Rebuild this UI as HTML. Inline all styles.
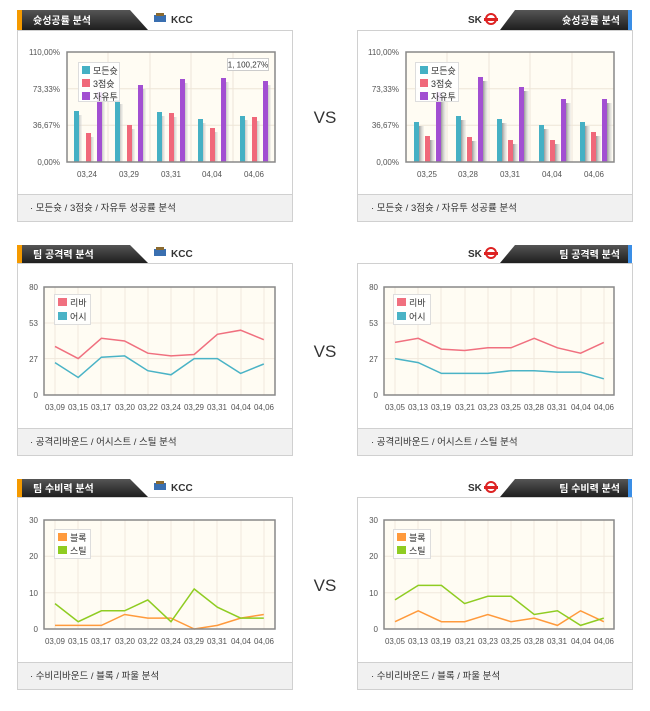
<!DOCTYPE html>
<html><head><meta charset="utf-8"><style>
html,body{margin:0;padding:0;background:#fff;}
svg text{font-family:"Liberation Sans","Noto Sans CJK KR",sans-serif;}
</style></head><body>
<svg width="650" height="706" viewBox="0 0 650 706" xmlns="http://www.w3.org/2000/svg">
<defs>
<linearGradient id="hd" x1="0" y1="0" x2="0" y2="1"><stop offset="0" stop-color="#555"/><stop offset="1" stop-color="#1e1e1e"/></linearGradient>
<linearGradient id="sh" x1="0" y1="0" x2="1" y2="0"><stop offset="0" stop-color="#999"/><stop offset="1" stop-color="#ddd" stop-opacity="0.3"/></linearGradient>
</defs>

<!-- ===== Panel boxes ===== -->
<g fill="#fff" stroke="#d0d0d0">
<rect x="17.5" y="30.5" width="275" height="191"/>
<rect x="357.5" y="30.5" width="275" height="191"/>
<rect x="17.5" y="263.5" width="275" height="192"/>
<rect x="357.5" y="263.5" width="275" height="192"/>
<rect x="17.5" y="497.5" width="275" height="192"/>
<rect x="357.5" y="497.5" width="275" height="192"/>
</g>
<g fill="#f1f1f1" stroke="#d0d0d0">
<rect x="17.5" y="194.5" width="275" height="27"/>
<rect x="357.5" y="194.5" width="275" height="27"/>
<rect x="17.5" y="428.5" width="275" height="27"/>
<rect x="357.5" y="428.5" width="275" height="27"/>
<rect x="17.5" y="662.5" width="275" height="27"/>
<rect x="357.5" y="662.5" width="275" height="27"/>
</g>
<g font-size="9.5" fill="#333">
<text x="30" y="211">·  모든슛 / 3점슛 / 자유투 성공률 분석</text>
<text x="371" y="211">·  모든슛 / 3점슛 / 자유투 성공률 분석</text>
<text x="30" y="445">· 공격리바운드 / 어시스트 / 스틸 분석</text>
<text x="371" y="445">·  공격리바운드 / 어시스트 / 스틸 분석</text>
<text x="30" y="679">·  수비리바운드 / 블록 / 파울 분석</text>
<text x="371" y="679">·  수비리바운드 / 블록 / 파울 분석</text>
</g>

<!-- ===== Headers ===== -->
<g>
<polygon points="17,10 130,10 148,30 17,30" fill="url(#hd)"/><rect x="17" y="10" width="5" height="20" fill="#f59a00"/>
<polygon points="515,10 632,10 632,30 500,30" fill="url(#hd)"/><rect x="628" y="10" width="4" height="20" fill="#3a8ee6"/>
<polygon points="17,245 130,245 148,263 17,263" fill="url(#hd)"/><rect x="17" y="245" width="5" height="18" fill="#f59a00"/>
<polygon points="515,245 632,245 632,263 500,263" fill="url(#hd)"/><rect x="628" y="245" width="4" height="18" fill="#3a8ee6"/>
<polygon points="17,479 130,479 148,497 17,497" fill="url(#hd)"/><rect x="17" y="479" width="5" height="18" fill="#f59a00"/>
<polygon points="515,479 632,479 632,497 500,497" fill="url(#hd)"/><rect x="628" y="479" width="4" height="18" fill="#3a8ee6"/>
</g>
<g font-size="10" font-weight="bold" fill="#fff">
<text x="33" y="24">슛성공률 분석</text>
<text x="620" y="24" text-anchor="end">슛성공률 분석</text>
<text x="33" y="258">팀 공격력 분석</text>
<text x="620" y="258" text-anchor="end">팀 공격력 분석</text>
<text x="33" y="492">팀 수비력 분석</text>
<text x="620" y="492" text-anchor="end">팀 수비력 분석</text>
</g>
<!-- team logos -->
<g font-size="10" font-weight="bold" fill="#333">
<rect x="154" y="15" width="12" height="7" fill="#3a6fb0"/><rect x="156" y="13" width="8" height="3" fill="#8a6a30"/>
<text x="171" y="23">KCC</text>
<rect x="154" y="249" width="12" height="7" fill="#3a6fb0"/><rect x="156" y="247" width="8" height="3" fill="#8a6a30"/>
<text x="171" y="257">KCC</text>
<rect x="154" y="483" width="12" height="7" fill="#3a6fb0"/><rect x="156" y="481" width="8" height="3" fill="#8a6a30"/>
<text x="171" y="491">KCC</text>
<text x="468" y="23">SK</text><circle cx="491" cy="19" r="5" fill="none" stroke="#d22" stroke-width="2"/><rect x="484" y="18" width="14" height="3" fill="#d22"/>
<text x="468" y="257">SK</text><circle cx="491" cy="253" r="5" fill="none" stroke="#d22" stroke-width="2"/><rect x="484" y="252" width="14" height="3" fill="#d22"/>
<text x="468" y="491">SK</text><circle cx="491" cy="487" r="5" fill="none" stroke="#d22" stroke-width="2"/><rect x="484" y="486" width="14" height="3" fill="#d22"/>
</g>

<!-- VS -->
<g font-size="17" fill="#333">
<text x="325" y="123" text-anchor="middle">VS</text>
<text x="325" y="357" text-anchor="middle">VS</text>
<text x="325" y="591" text-anchor="middle">VS</text>
</g>

<!-- ===== Panel 1 left: bars ===== -->
<rect x="67" y="52" width="208" height="110" fill="#fffcf3"/>
<g stroke="#eee5d8" stroke-width="1">
<line x1="67" y1="88.7" x2="275" y2="88.7"/><line x1="67" y1="125.3" x2="275" y2="125.3"/>
<line x1="108" y1="52" x2="108" y2="162"/><line x1="150" y1="52" x2="150" y2="162"/><line x1="191" y1="52" x2="191" y2="162"/><line x1="233" y1="52" x2="233" y2="162"/>
</g>
<g fill="url(#sh)">
<rect x="77" y="115" width="5" height="47"/><rect x="89" y="137" width="5" height="25"/><rect x="100" y="96" width="5" height="66"/>
<rect x="118" y="104" width="5" height="58"/><rect x="130" y="129" width="5" height="33"/><rect x="141" y="89" width="5" height="73"/>
<rect x="160" y="116" width="5" height="46"/><rect x="172" y="117" width="5" height="45"/><rect x="183" y="83" width="5" height="79"/>
<rect x="201" y="123" width="5" height="39"/><rect x="213" y="132" width="5" height="30"/><rect x="224" y="82" width="5" height="80"/>
<rect x="243" y="120" width="5" height="42"/><rect x="255" y="121" width="5" height="41"/><rect x="266" y="85" width="5" height="77"/>
</g>
<g>
<rect x="74" y="111" width="5" height="51" fill="#45b0c4"/><rect x="86" y="133" width="5" height="29" fill="#f0687a"/><rect x="97" y="92" width="5" height="70" fill="#a24fd2"/>
<rect x="115" y="100" width="5" height="62" fill="#45b0c4"/><rect x="127" y="125" width="5" height="37" fill="#f0687a"/><rect x="138" y="85" width="5" height="77" fill="#a24fd2"/>
<rect x="157" y="112" width="5" height="50" fill="#45b0c4"/><rect x="169" y="113" width="5" height="49" fill="#f0687a"/><rect x="180" y="79" width="5" height="83" fill="#a24fd2"/>
<rect x="198" y="119" width="5" height="43" fill="#45b0c4"/><rect x="210" y="128" width="5" height="34" fill="#f0687a"/><rect x="221" y="78" width="5" height="84" fill="#a24fd2"/>
<rect x="240" y="116" width="5" height="46" fill="#45b0c4"/><rect x="252" y="117" width="5" height="45" fill="#f0687a"/><rect x="263" y="81" width="5" height="81" fill="#a24fd2"/>
</g>
<rect x="67" y="52" width="208" height="110" fill="none" stroke="#888" stroke-width="1.5"/>
<rect x="78.5" y="62.5" width="41" height="39" fill="#fff" fill-opacity="0.85" stroke="#ddd"/>
<rect x="82" y="66" width="8" height="8" fill="#45b0c4"/><rect x="82" y="79" width="8" height="8" fill="#f0687a"/><rect x="82" y="92" width="8" height="8" fill="#a24fd2"/>
<g font-size="9" fill="#333"><text x="93" y="74">모든슛</text><text x="93" y="87">3점슛</text><text x="93" y="100">자유투</text></g>
<rect x="227.5" y="58.5" width="41" height="12" fill="#fff" stroke="#ccc"/>
<text x="248" y="67.5" font-size="8" fill="#333" text-anchor="middle">1, 100,27%</text>
<g font-size="8" fill="#555" text-anchor="end">
<text x="60" y="55">110,00%</text><text x="60" y="92">73,33%</text><text x="60" y="128">36,67%</text><text x="60" y="165">0,00%</text>
</g>
<g font-size="8" fill="#555" text-anchor="middle">
<text x="87" y="177">03,24</text><text x="129" y="177">03,29</text><text x="171" y="177">03,31</text><text x="212" y="177">04,04</text><text x="254" y="177">04,06</text>
</g>

<!-- ===== Panel 1 right: bars ===== -->
<rect x="406" y="52" width="208" height="110" fill="#fffcf3"/>
<g stroke="#eee5d8" stroke-width="1">
<line x1="406" y1="88.7" x2="614" y2="88.7"/><line x1="406" y1="125.3" x2="614" y2="125.3"/>
<line x1="447" y1="52" x2="447" y2="162"/><line x1="489" y1="52" x2="489" y2="162"/><line x1="530" y1="52" x2="530" y2="162"/><line x1="572" y1="52" x2="572" y2="162"/>
</g>
<g fill="url(#sh)">
<rect x="419" y="126" width="5" height="36"/><rect x="430" y="140" width="5" height="22"/><rect x="441" y="96" width="5" height="66"/>
<rect x="461" y="120" width="5" height="42"/><rect x="472" y="141" width="5" height="21"/><rect x="483" y="81" width="5" height="81"/>
<rect x="502" y="123" width="5" height="39"/><rect x="513" y="144" width="5" height="18"/><rect x="524" y="91" width="5" height="71"/>
<rect x="544" y="129" width="5" height="33"/><rect x="555" y="144" width="5" height="18"/><rect x="566" y="103" width="5" height="59"/>
<rect x="585" y="126" width="5" height="36"/><rect x="596" y="136" width="5" height="26"/><rect x="607" y="103" width="5" height="59"/>
</g>
<g>
<rect x="414" y="122" width="5" height="40" fill="#45b0c4"/><rect x="425" y="136" width="5" height="26" fill="#f0687a"/><rect x="436" y="92" width="5" height="70" fill="#a24fd2"/>
<rect x="456" y="116" width="5" height="46" fill="#45b0c4"/><rect x="467" y="137" width="5" height="25" fill="#f0687a"/><rect x="478" y="77" width="5" height="85" fill="#a24fd2"/>
<rect x="497" y="119" width="5" height="43" fill="#45b0c4"/><rect x="508" y="140" width="5" height="22" fill="#f0687a"/><rect x="519" y="87" width="5" height="75" fill="#a24fd2"/>
<rect x="539" y="125" width="5" height="37" fill="#45b0c4"/><rect x="550" y="140" width="5" height="22" fill="#f0687a"/><rect x="561" y="99" width="5" height="63" fill="#a24fd2"/>
<rect x="580" y="122" width="5" height="40" fill="#45b0c4"/><rect x="591" y="132" width="5" height="30" fill="#f0687a"/><rect x="602" y="99" width="5" height="63" fill="#a24fd2"/>
</g>
<rect x="406" y="52" width="208" height="110" fill="none" stroke="#888" stroke-width="1.5"/>
<rect x="415.5" y="62.5" width="43" height="39" fill="#fff" fill-opacity="0.85" stroke="#ddd"/>
<rect x="420" y="66" width="8" height="8" fill="#45b0c4"/><rect x="420" y="79" width="8" height="8" fill="#f0687a"/><rect x="420" y="92" width="8" height="8" fill="#a24fd2"/>
<g font-size="9" fill="#333"><text x="431" y="74">모든슛</text><text x="431" y="87">3점슛</text><text x="431" y="100">자유투</text></g>
<g font-size="8" fill="#555" text-anchor="end">
<text x="399" y="55">110,00%</text><text x="399" y="92">73,33%</text><text x="399" y="128">36,67%</text><text x="399" y="165">0,00%</text>
</g>
<g font-size="8" fill="#555" text-anchor="middle">
<text x="427" y="177">03,25</text><text x="468" y="177">03,28</text><text x="510" y="177">03,31</text><text x="552" y="177">04,04</text><text x="594" y="177">04,06</text>
</g>

<!-- ===== Panel 2 left ===== -->
<rect x="44" y="287" width="231" height="108" fill="#fffcf3"/>
<g stroke="#f0e8dc">
<line x1="44" y1="323" x2="275" y2="323"/><line x1="44" y1="358.6" x2="275" y2="358.6"/>
<line x1="55" y1="287" x2="55" y2="395"/><line x1="78" y1="287" x2="78" y2="395"/><line x1="101" y1="287" x2="101" y2="395"/><line x1="125" y1="287" x2="125" y2="395"/><line x1="148" y1="287" x2="148" y2="395"/><line x1="171" y1="287" x2="171" y2="395"/><line x1="194" y1="287" x2="194" y2="395"/><line x1="217" y1="287" x2="217" y2="395"/><line x1="241" y1="287" x2="241" y2="395"/><line x1="264" y1="287" x2="264" y2="395"/>
</g>
<polyline fill="none" stroke="#f0707f" stroke-width="1.5" points="55,346.4 78.2,358.6 101.4,338.3 124.6,341 147.8,353.2 171,355.9 194.2,354.5 217.4,334.3 240.6,330.2 263.8,339.7"/>
<polyline fill="none" stroke="#4ab3c6" stroke-width="1.5" points="55,362.6 78.2,377.5 101.4,357.2 124.6,355.9 147.8,370.7 171,374.8 194.2,358.6 217.4,358.6 240.6,373.4 263.8,364"/>
<rect x="44" y="287" width="231" height="108" fill="none" stroke="#888" stroke-width="1.5"/>
<rect x="54.5" y="294.5" width="36" height="30" fill="#fff" fill-opacity="0.85" stroke="#ddd"/>
<rect x="58" y="298" width="9" height="8" fill="#f0707f"/><rect x="58" y="312" width="9" height="8" fill="#4ab3c6"/>
<g font-size="9" fill="#333"><text x="70" y="306">리바</text><text x="70" y="320">어시</text></g>
<g font-size="8" fill="#555" text-anchor="end"><text x="38" y="290">80</text><text x="38" y="326">53</text><text x="38" y="362">27</text><text x="38" y="398">0</text></g>
<g font-size="8" fill="#555" text-anchor="middle">
<text x="55" y="410">03,09</text><text x="78" y="410">03,15</text><text x="101" y="410">03,17</text><text x="125" y="410">03,20</text><text x="148" y="410">03,22</text><text x="171" y="410">03,24</text><text x="194" y="410">03,29</text><text x="217" y="410">03,31</text><text x="241" y="410">04,04</text><text x="264" y="410">04,06</text>
</g>

<!-- ===== Panel 2 right ===== -->
<rect x="384" y="287" width="230" height="108" fill="#fffcf3"/>
<g stroke="#f0e8dc">
<line x1="384" y1="323" x2="614" y2="323"/><line x1="384" y1="358.6" x2="614" y2="358.6"/>
<line x1="395" y1="287" x2="395" y2="395"/><line x1="418" y1="287" x2="418" y2="395"/><line x1="441" y1="287" x2="441" y2="395"/><line x1="465" y1="287" x2="465" y2="395"/><line x1="488" y1="287" x2="488" y2="395"/><line x1="511" y1="287" x2="511" y2="395"/><line x1="534" y1="287" x2="534" y2="395"/><line x1="557" y1="287" x2="557" y2="395"/><line x1="581" y1="287" x2="581" y2="395"/><line x1="604" y1="287" x2="604" y2="395"/>
</g>
<polyline fill="none" stroke="#f0707f" stroke-width="1.5" points="395,342.4 418.2,338.3 441.4,349.1 464.6,350.5 487.8,347.8 511,347.8 534.2,338.3 557.4,347.8 580.6,353.2 603.8,342.4"/>
<polyline fill="none" stroke="#4ab3c6" stroke-width="1.5" points="395,358.6 418.2,362.6 441.4,373.4 464.6,373.4 487.8,373.4 511,370.7 534.2,370.7 557.4,372.1 580.6,372.1 603.8,378.8"/>
<rect x="384" y="287" width="230" height="108" fill="none" stroke="#888" stroke-width="1.5"/>
<rect x="393.5" y="294.5" width="37" height="30" fill="#fff" fill-opacity="0.85" stroke="#ddd"/>
<rect x="397" y="298" width="9" height="8" fill="#f0707f"/><rect x="397" y="312" width="9" height="8" fill="#4ab3c6"/>
<g font-size="9" fill="#333"><text x="409" y="306">리바</text><text x="409" y="320">어시</text></g>
<g font-size="8" fill="#555" text-anchor="end"><text x="378" y="290">80</text><text x="378" y="326">53</text><text x="378" y="362">27</text><text x="378" y="398">0</text></g>
<g font-size="8" fill="#555" text-anchor="middle">
<text x="395" y="410">03,05</text><text x="418" y="410">03,13</text><text x="441" y="410">03,19</text><text x="465" y="410">03,21</text><text x="488" y="410">03,23</text><text x="511" y="410">03,25</text><text x="534" y="410">03,28</text><text x="557" y="410">03,31</text><text x="581" y="410">04,04</text><text x="604" y="410">04,06</text>
</g>

<!-- ===== Panel 3 left ===== -->
<rect x="44" y="520" width="231" height="109" fill="#fffcf3"/>
<g stroke="#f0e8dc">
<line x1="44" y1="556.3" x2="275" y2="556.3"/><line x1="44" y1="592.7" x2="275" y2="592.7"/>
<line x1="55" y1="520" x2="55" y2="629"/><line x1="78" y1="520" x2="78" y2="629"/><line x1="101" y1="520" x2="101" y2="629"/><line x1="125" y1="520" x2="125" y2="629"/><line x1="148" y1="520" x2="148" y2="629"/><line x1="171" y1="520" x2="171" y2="629"/><line x1="194" y1="520" x2="194" y2="629"/><line x1="217" y1="520" x2="217" y2="629"/><line x1="241" y1="520" x2="241" y2="629"/><line x1="264" y1="520" x2="264" y2="629"/>
</g>
<polyline fill="none" stroke="#ff9a3c" stroke-width="1.5" points="55,625.4 78.2,625.4 101.4,625.4 124.6,614.5 147.8,618.1 171,618.1 194.2,629 217.4,625.4 240.6,618.1 263.8,614.5"/>
<polyline fill="none" stroke="#8fcc22" stroke-width="1.5" points="55,603.6 78.2,621.7 101.4,610.8 124.6,610.8 147.8,599.9 171,621.7 194.2,589 217.4,607.2 240.6,618.1 263.8,618.1"/>
<rect x="44" y="520" width="231" height="109" fill="none" stroke="#888" stroke-width="1.5"/>
<rect x="54.5" y="529.5" width="36" height="29" fill="#fff" fill-opacity="0.85" stroke="#ddd"/>
<rect x="58" y="533" width="9" height="8" fill="#ff9a3c"/><rect x="58" y="546" width="9" height="8" fill="#8fcc22"/>
<g font-size="9" fill="#333"><text x="70" y="541">블록</text><text x="70" y="554">스틸</text></g>
<g font-size="8" fill="#555" text-anchor="end"><text x="38" y="523">30</text><text x="38" y="559">20</text><text x="38" y="596">10</text><text x="38" y="632">0</text></g>
<g font-size="8" fill="#555" text-anchor="middle">
<text x="55" y="644">03,09</text><text x="78" y="644">03,15</text><text x="101" y="644">03,17</text><text x="125" y="644">03,20</text><text x="148" y="644">03,22</text><text x="171" y="644">03,24</text><text x="194" y="644">03,29</text><text x="217" y="644">03,31</text><text x="241" y="644">04,04</text><text x="264" y="644">04,06</text>
</g>

<!-- ===== Panel 3 right ===== -->
<rect x="384" y="520" width="230" height="109" fill="#fffcf3"/>
<g stroke="#f0e8dc">
<line x1="384" y1="556.3" x2="614" y2="556.3"/><line x1="384" y1="592.7" x2="614" y2="592.7"/>
<line x1="395" y1="520" x2="395" y2="629"/><line x1="418" y1="520" x2="418" y2="629"/><line x1="441" y1="520" x2="441" y2="629"/><line x1="465" y1="520" x2="465" y2="629"/><line x1="488" y1="520" x2="488" y2="629"/><line x1="511" y1="520" x2="511" y2="629"/><line x1="534" y1="520" x2="534" y2="629"/><line x1="557" y1="520" x2="557" y2="629"/><line x1="581" y1="520" x2="581" y2="629"/><line x1="604" y1="520" x2="604" y2="629"/>
</g>
<polyline fill="none" stroke="#ff9a3c" stroke-width="1.5" points="395,621.7 418.2,610.8 441.4,621.7 464.6,621.7 487.8,614.5 511,621.7 534.2,618.1 557.4,625.4 580.6,610.8 603.8,621.7"/>
<polyline fill="none" stroke="#8fcc22" stroke-width="1.5" points="395,599.9 418.2,585.4 441.4,585.4 464.6,603.6 487.8,596.3 511,596.3 534.2,614.5 557.4,610.8 580.6,625.4 603.8,618.1"/>
<rect x="384" y="520" width="230" height="109" fill="none" stroke="#888" stroke-width="1.5"/>
<rect x="393.5" y="529.5" width="37" height="29" fill="#fff" fill-opacity="0.85" stroke="#ddd"/>
<rect x="397" y="533" width="9" height="8" fill="#ff9a3c"/><rect x="397" y="546" width="9" height="8" fill="#8fcc22"/>
<g font-size="9" fill="#333"><text x="409" y="541">블록</text><text x="409" y="554">스틸</text></g>
<g font-size="8" fill="#555" text-anchor="end"><text x="378" y="523">30</text><text x="378" y="559">20</text><text x="378" y="596">10</text><text x="378" y="632">0</text></g>
<g font-size="8" fill="#555" text-anchor="middle">
<text x="395" y="644">03,05</text><text x="418" y="644">03,13</text><text x="441" y="644">03,19</text><text x="465" y="644">03,21</text><text x="488" y="644">03,23</text><text x="511" y="644">03,25</text><text x="534" y="644">03,28</text><text x="557" y="644">03,31</text><text x="581" y="644">04,04</text><text x="604" y="644">04,06</text>
</g>
</svg>
</body></html>
